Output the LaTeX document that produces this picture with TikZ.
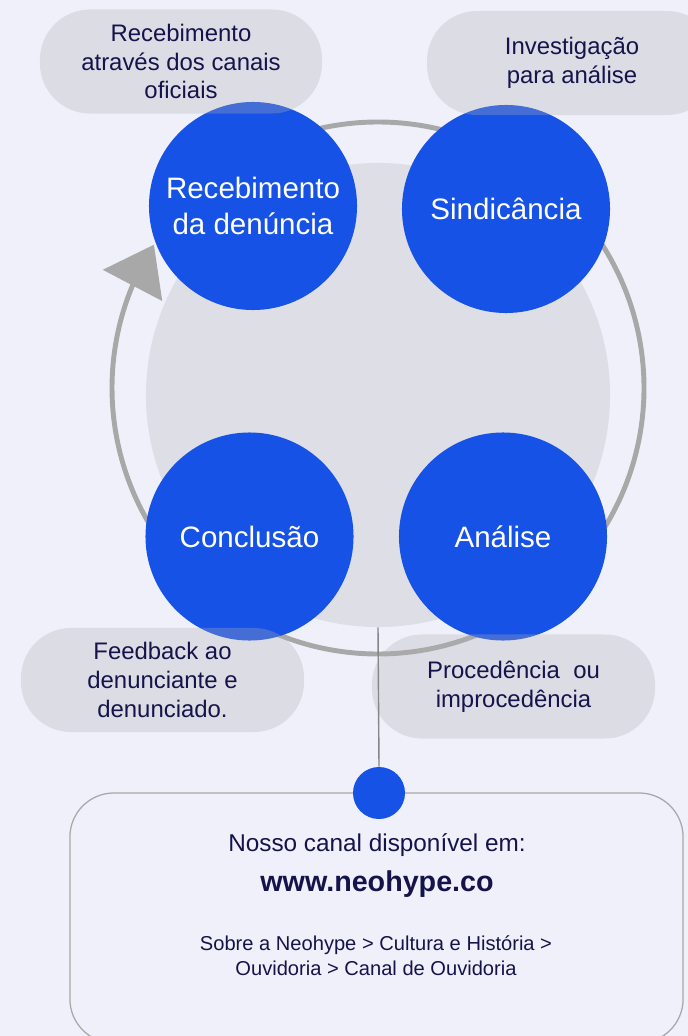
\documentclass[tikz,border=0pt]{standalone}
\usepackage{fontspec}
\setmainfont{Liberation Sans}
\usetikzlibrary{arrows.meta,bending}
\definecolor{canvasbg}{RGB}{240,240,250}
\definecolor{hubgray}{RGB}{222,222,230}
\definecolor{ringgray}{RGB}{168,168,168}
\definecolor{stageblue}{RGB}{21,82,229}
\definecolor{notegray}{RGB}{177,177,180}
\definecolor{inkblue}{RGB}{20,20,75}
\tikzstyle{bubble}=[circle,fill=stageblue,text=white,inner sep=0pt,minimum size=5.2cm,align=center,font=\fontsize{21}{25}\selectfont]
\tikzstyle{note}=[rectangle,rounded corners=1.25cm,fill=notegray,fill opacity=0.3,text opacity=1,text=inkblue,inner sep=0pt,minimum width=7.075cm,minimum height=2.6cm,align=center,font=\fontsize{17}{20.5}\selectfont]
\tikzstyle{hub}=[circle,fill=hubgray,inner sep=0pt,minimum size=11.6cm]
\tikzstyle{ring}=[draw=ringgray,line width=3.5pt,-{Triangle[length=1.15cm,width=1.65cm]}]
\tikzstyle{stem}=[draw=ringgray!80!black,line width=1pt]
\tikzstyle{dot}=[circle,fill=stageblue,inner sep=0pt,minimum size=1.3cm]
\tikzstyle{panel}=[rectangle,draw=ringgray,line width=0.9pt,rounded corners=1.1cm,minimum width=15.325cm,minimum height=6.25cm,inner sep=0pt]
\tikzstyle{info}=[text=inkblue,align=center]

\begin{document}
\begin{tikzpicture}[x=0.025cm,y=-0.025cm]
                  \useasboundingbox (0,0) rectangle (688,1036);
                  \fill [canvasbg] (0,0) rectangle (688,1036);

                  \node (hub) at (378,395) [hub] {};
                  \coordinate (pivot) at (378,388);
                  \draw [ring] ([shift={(-135:266)}]pivot) arc [start angle=-135,end angle=212.6,radius=266];

                  \node (rec) at (253,206) [bubble] {Recebimento\\da denúncia};
                  \node (sind) at (506,209) [bubble] {Sindicância};
                  \node (concl) at (249.5,536.5) [bubble] {Conclusão};
                  \node (anal) at (503,536.5) [bubble] {Análise};

                  \node (inbound) at (181,61.5) [note,minimum width=7.05cm] {Recebimento\\através dos canais\\oficiais};
                  \node (inquiry) at (572,63) [note,minimum width=7.25cm] {Investigação\\para análise};
                  \node (feedback) at (162.5,680) [note] {Feedback ao\\denunciante e\\denunciado.};
                  \node (verdict) at (513.5,686.5) [note] {Procedência\ \ ou\\improcedência};

                  \node (panel) at (376.5,918) [panel] {};
                  \node (dot) at (379,793) [dot] {};
                  \draw [stem] (hub.south) -- (dot.north);

                  \node (invite) at (377,845) [info,font=\fontsize{17.3}{20}\selectfont] {Nosso canal disponível em:};
                  \node (site) at (377,884) [info,font=\bfseries\fontsize{20.4}{24}\selectfont] {www.neohype.co};
                  \node (route) at (376,956) [info,font=\fontsize{14.3}{17.8}\selectfont] {Sobre a Neohype > Cultura e História >\\Ouvidoria > Canal de Ouvidoria};
              \end{tikzpicture}
\end{document}
